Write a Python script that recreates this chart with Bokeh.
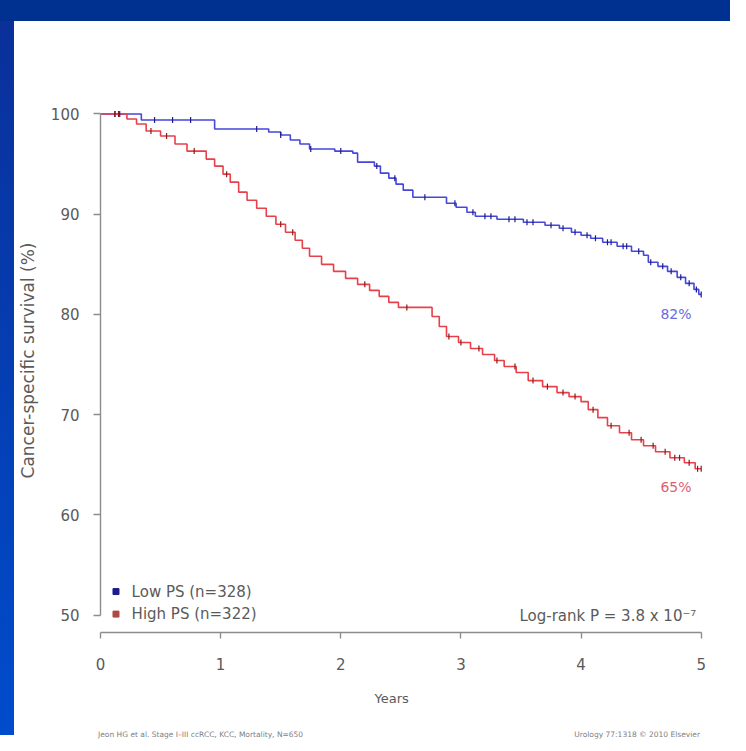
import numpy as np
from bokeh.plotting import figure
from bokeh.models import Range1d, FixedTicker, Label, Div, Title
from bokeh.layouts import column, row
from bokeh.embed import file_html
from bokeh.resources import INLINE
from bokeh.core.properties import value

# ---------------- data ----------------
years_low = [0, 0.34, 0.95, 1.40, 1.50, 1.58, 1.66, 1.74, 1.95, 2.10, 2.14, 2.28, 2.33,
             2.40, 2.46, 2.52, 2.60, 2.88, 2.96, 3.05, 3.12, 3.30, 3.52, 3.70, 3.82,
             3.92, 4.00, 4.08, 4.18, 4.30, 4.42, 4.52, 4.56, 4.64, 4.72, 4.80, 4.87,
             4.94, 4.98, 5.00]
surv_low = [100, 99.4, 98.5, 98.2, 97.9, 97.4, 97.0, 96.5, 96.3, 96.1, 95.2, 94.8, 94.1,
            93.6, 93.0, 92.4, 91.7, 91.1, 90.7, 90.2, 89.8, 89.5, 89.2, 88.9, 88.6,
            88.2, 87.9, 87.6, 87.2, 86.8, 86.3, 85.9, 85.2, 84.8, 84.3, 83.7, 83.1,
            82.5, 82.0, 82.0]

years_high = [0, 0.22, 0.30, 0.38, 0.50, 0.62, 0.72, 0.88, 0.95, 1.02, 1.08, 1.15, 1.22,
              1.30, 1.38, 1.46, 1.54, 1.62, 1.68, 1.74, 1.84, 1.94, 2.04, 2.14, 2.24,
              2.32, 2.40, 2.48, 2.76, 2.82, 2.88, 2.98, 3.08, 3.18, 3.28, 3.36, 3.46,
              3.56, 3.68, 3.80, 3.90, 4.00, 4.06, 4.14, 4.22, 4.32, 4.42, 4.52, 4.62,
              4.74, 4.86, 4.95, 5.00]
surv_high = [100, 99.5, 99.0, 98.3, 97.8, 97.0, 96.3, 95.5, 94.8, 94.0, 93.2, 92.2, 91.4,
             90.6, 89.8, 89.0, 88.2, 87.4, 86.6, 85.8, 85.0, 84.3, 83.6, 83.0, 82.4,
             81.8, 81.2, 80.7, 79.8, 78.8, 77.8, 77.2, 76.6, 76.0, 75.4, 74.8, 74.2,
             73.4, 72.8, 72.2, 71.8, 71.3, 70.5, 69.7, 68.9, 68.2, 67.5, 66.9, 66.3,
             65.7, 65.2, 64.6, 64.6]

censor_low = [0.12, 0.16, 0.45, 0.60, 0.75, 1.30, 1.50, 1.75, 2.00, 2.30, 2.45, 2.70,
              2.95, 3.10, 3.20, 3.25, 3.40, 3.45, 3.55, 3.60, 3.75, 3.85, 3.95, 4.05,
              4.12, 4.22, 4.25, 4.35, 4.38, 4.48, 4.58, 4.68, 4.75, 4.83, 4.90, 4.96, 5.00]
censor_high = [0.12, 0.15, 0.42, 0.55, 0.78, 1.05, 1.50, 1.60, 2.20, 2.55, 2.90, 3.00,
               3.15, 3.30, 3.45, 3.60, 3.72, 3.85, 3.95, 4.10, 4.25, 4.40, 4.50, 4.60,
               4.70, 4.78, 4.82, 4.90, 4.97, 5.00]

x_ticks = [0, 1, 2, 3, 4, 5]
y_ticks = [50, 60, 70, 80, 90, 100]
legend_labels = ["Low PS (n=328)", "High PS (n=322)"]
end_labels = ["82%", "65%"]
logrank_text = "Log-rank P = 3.8 x 10\u207b\u2077"
x_title = "Years"
y_title = "Cancer-specific survival (%)"
footer_left = "Jeon HG et al. Stage I\u2013III ccRCC, KCC, Mortality, N=650"
footer_right = "Urology 77:1318 \u00a9 2010 Elsevier"

# ---------------- styling ----------------
FONT = "DejaVu Sans"
TXT = "#5a5a5a"
AX = "#8c8c8c"
BLUE = "#4646dc"
BLUE_D = "#1c1c8c"
RED = "#e8404a"
RED_D = "#8c1818"
LEG_COLORS = [BLUE_D, "#b04a40"]
END_COLORS = ["#6a6ae0", "#e06070"]


def censor_y(times, levels, cens):
    t = np.asarray(times)
    s = np.asarray(levels)
    idx = np.searchsorted(t, np.asarray(cens), side="right") - 1
    return s[idx]


p = figure(width=716, height=704,
           x_range=Range1d(0, 5.244), y_range=Range1d(48.264, 102.544),
           output_backend="svg", toolbar_location=None,
           min_border_left=85, min_border_right=0,
           min_border_top=67, min_border_bottom=93)
p.outline_line_color = None
p.grid.visible = False
p.background_fill_color = "white"
p.border_fill_color = "white"

for ax in (p.xaxis[0], p.yaxis[0]):
    ax.axis_line_color = AX
    ax.axis_line_width = 1.4
    ax.major_tick_line_color = AX
    ax.major_tick_line_width = 1.4
    ax.major_tick_in = 0
    ax.minor_tick_line_color = None
    ax.major_label_text_color = TXT
    ax.major_label_text_font = FONT
    ax.major_label_text_font_size = "15px"
    ax.axis_label_text_color = TXT
    ax.axis_label_text_font = FONT
    ax.axis_label_text_font_style = "normal"

p.xaxis[0].ticker = FixedTicker(ticks=x_ticks)
p.xaxis[0].bounds = (x_ticks[0], x_ticks[-1])
p.xaxis[0].major_tick_out = 6
p.xaxis[0].major_label_standoff = 19

# x-axis title as a below-panel title so it can sit slightly left of centre
p.add_layout(Title(text=x_title, align="left", offset=274, standoff=33,
                   text_font=FONT, text_font_size="13px", text_font_style="normal",
                   text_color=TXT), "below")

p.yaxis[0].ticker = FixedTicker(ticks=y_ticks)
p.yaxis[0].bounds = (y_ticks[0], y_ticks[-1])
p.yaxis[0].major_tick_out = 7
p.yaxis[0].major_label_standoff = 14
p.yaxis[0].axis_label = y_title
p.yaxis[0].axis_label_text_font_size = "17px"
p.yaxis[0].axis_label_standoff = 10

# survival curves
p.step(x=years_low, y=surv_low, mode="after", line_color=BLUE, line_width=1.6)
p.step(x=years_high, y=surv_high, mode="after", line_color=RED, line_width=1.6)

# censor marks
p.scatter(x=censor_low, y=censor_y(years_low, surv_low, censor_low),
          marker="dash", angle=np.pi / 2, size=6, line_color=BLUE_D, line_width=1.2)
p.scatter(x=censor_high, y=censor_y(years_high, surv_high, censor_high),
          marker="dash", angle=np.pi / 2, size=6, line_color=RED_D, line_width=1.2)

# legend (square keys + labels, bottom-left inside the plot)
leg_y = [52.35, 50.10]
p.scatter(x=[0.129, 0.129], y=leg_y, marker="square", size=6,
          fill_color=LEG_COLORS, line_color=LEG_COLORS)
p.text(x=[0.259, 0.259], y=leg_y, text=legend_labels,
       text_font=value(FONT), text_font_size="15px", text_color=TXT,
       text_baseline="middle", text_align="left")

# end-of-curve percentages and log-rank text
p.text(x=[4.79, 4.79], y=[80.0, 62.8], text=end_labels, text_color=END_COLORS,
       text_font=value(FONT), text_font_size="14px",
       text_baseline="middle", text_align="center")
p.add_layout(Label(x=4.96, y=49.9, text=logrank_text, text_align="right",
                   text_baseline="middle", text_font=FONT, text_font_size="15px",
                   text_color=TXT))

footer = Div(text=("<div style='width:716px;box-sizing:border-box;display:flex;"
                   "justify-content:space-between;"
                   "font-family:DejaVu Sans;font-size:7.5px;color:#808080;"
                   "padding:0 30px 0 84px;line-height:10px'>"
                   f"<span>{footer_left}</span><span>{footer_right}</span></div>"),
             width=716, height=10, margin=(0, 0, 0, 0))

top_band = Div(text="", width=730, height=21, margin=(0, 0, 0, 0),
               styles={"background": "#003090"})
left_band = Div(text="", width=14, height=714, margin=(0, 0, 0, 0),
                styles={"background": "linear-gradient(to bottom, #0a309a, #004ccc)"})

layout = column(top_band,
                row(left_band, column(p, footer, spacing=0), spacing=0),
                spacing=0)

open("out.html", "w").write(file_html(layout, INLINE))
